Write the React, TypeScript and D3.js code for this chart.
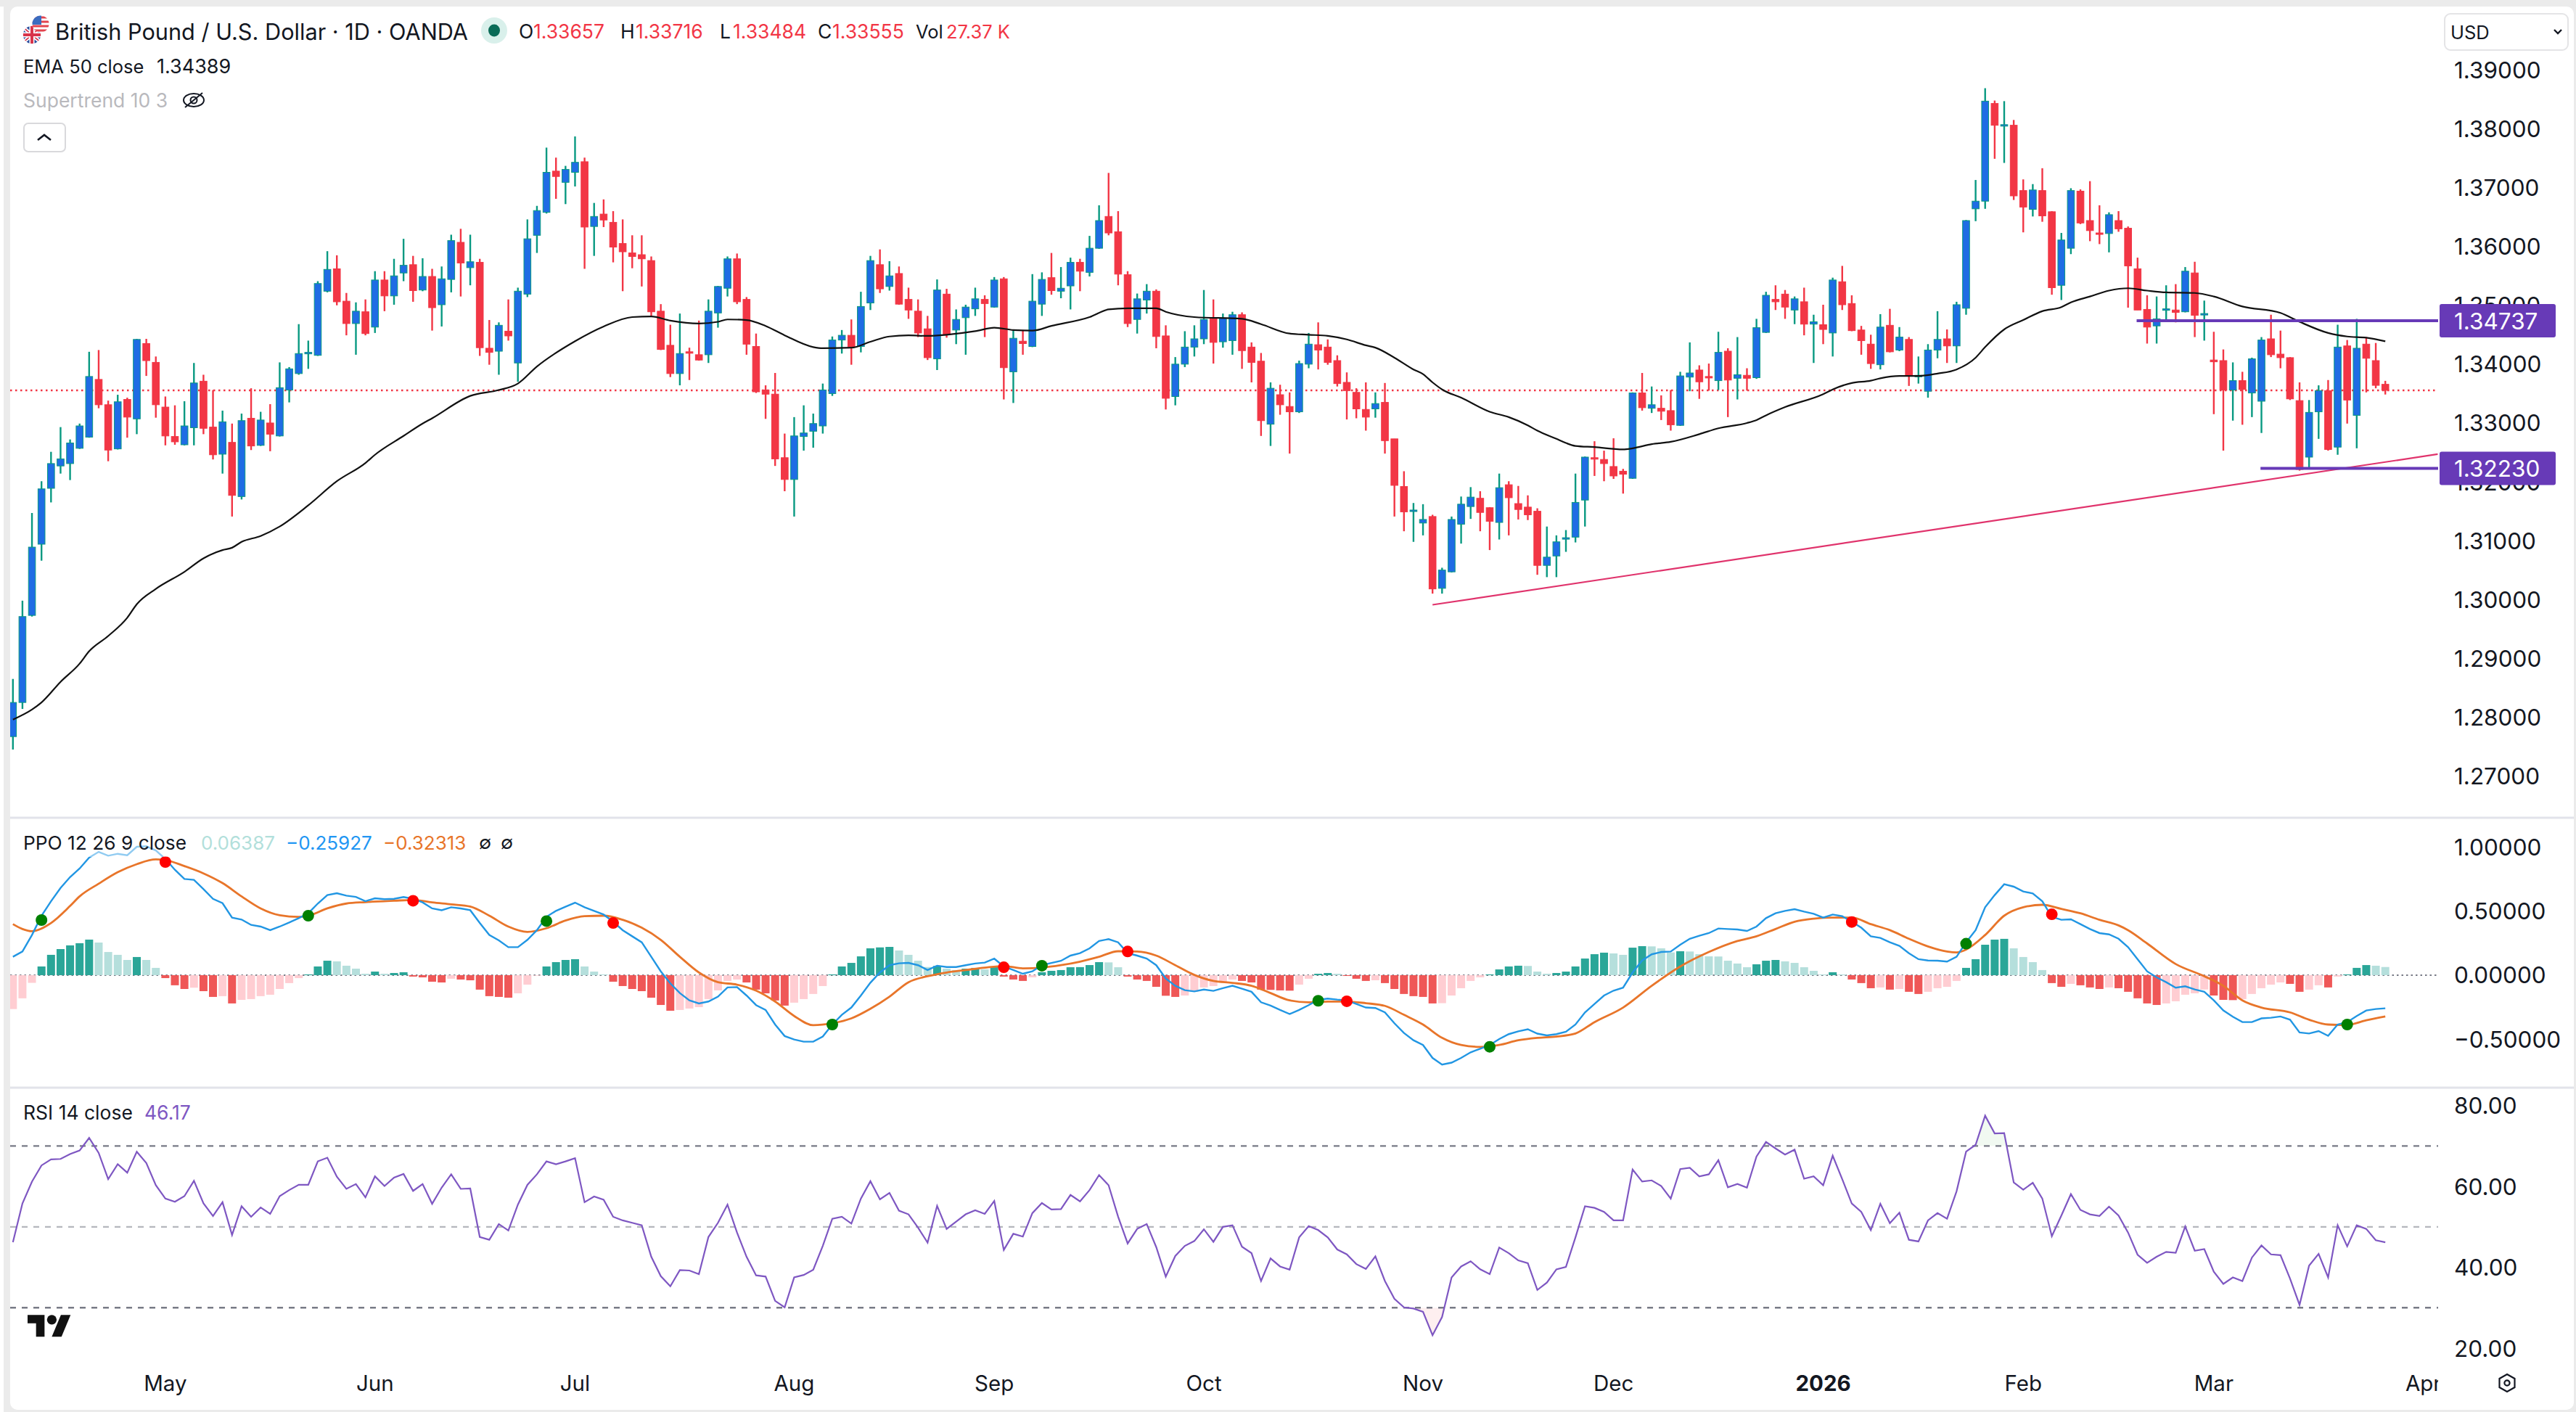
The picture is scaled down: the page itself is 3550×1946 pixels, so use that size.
import React from "react";
import * as d3 from "d3";

// ---------- DATA ----------
const opens = [
1.2767,1.2825,1.2973,1.3094,1.3189,1.3227,1.3231,1.3257,1.3276,1.3374,
1.3331,1.3256,1.3340,1.3307,1.3435,1.3403,1.3327,1.3277,1.3263,1.3292,
1.3371,1.3293,1.3247,1.3267,1.3175,1.3308,1.3262,1.3300,1.3278,1.3356,
1.3384,1.3418,1.3415,1.3524,1.3562,1.3507,1.3469,1.3489,1.3463,1.3543,
1.3516,1.3555,1.3569,1.3526,1.3549,1.3501,1.3544,1.3607,1.3564,1.3573,
1.3427,1.3422,1.3456,1.3402,1.3519,1.3619,1.3658,1.3728,1.3709,1.3726,
1.3744,1.3634,1.3655,1.3641,1.3605,1.3589,1.3586,1.3576,1.3490,1.3432,
1.3384,1.3421,1.3416,1.3416,1.3487,1.3529,1.3579,1.3510,1.3430,1.3356,
1.3349,1.3241,1.3204,1.3277,1.3286,1.3295,1.3350,1.3441,1.3449,1.3430,
1.3504,1.3569,1.3532,1.3554,1.3510,1.3490,1.3460,1.3409,1.3519,1.3458,
1.3479,1.3494,1.3510,1.3497,1.3545,1.3387,1.3439,1.3430,1.3502,1.3547,
1.3524,1.3533,1.3573,1.3556,1.3597,1.3651,1.3625,1.3552,1.3476,1.3509,
1.3524,1.3448,1.3345,1.3400,1.3429,1.3443,1.3477,1.3438,1.3440,1.3484,
1.3429,1.3405,1.3298,1.3348,1.3328,1.3319,1.3400,1.3433,1.3429,1.3406,
1.3369,1.3352,1.3323,1.3324,1.3335,1.3273,1.3192,1.3150,1.3130,1.3141,
1.3019,1.3047,1.3128,1.3158,1.3172,1.3156,1.3131,1.3195,1.3163,1.3157,
1.3150,1.3058,1.3074,1.3103,1.3106,1.3169,1.3241,1.3238,1.3226,1.3218,
1.3206,1.3351,1.3325,1.3325,1.3321,1.3296,1.3378,1.3390,1.3379,1.3372,
1.3422,1.3376,1.3381,1.3377,1.3454,1.3510,1.3519,1.3492,1.3506,1.3468,
1.3467,1.3453,1.3540,1.3503,1.3458,1.3434,1.3399,1.3466,1.3424,1.3442,
1.3379,1.3354,1.3424,1.3443,1.3431,1.3495,1.3664,1.3677,1.3843,1.3805,
1.3806,1.3695,1.3663,1.3695,1.3659,1.3534,1.3597,1.3694,1.3644,1.3623,
1.3622,1.3644,1.3631,1.3562,1.3493,1.3465,1.3492,1.3492,1.3489,1.3555,
1.3484,1.3407,1.3406,1.3356,1.3372,1.3351,1.3337,1.3443,1.3417,1.3411,
1.3338,1.3242,1.3319,1.3355,1.3259,1.3431,1.3313,1.3434,1.3406,1.33657];
const closes = [
1.2825,1.2971,1.3089,1.3188,1.3231,1.3239,1.3266,1.3295,1.3379,1.3331,
1.3254,1.3336,1.3310,1.3442,1.3406,1.3331,1.3278,1.3268,1.3295,1.3368,
1.3291,1.3246,1.3302,1.3177,1.3304,1.3261,1.3305,1.3281,1.3360,1.3392,
1.3418,1.3420,1.3537,1.3561,1.3506,1.3469,1.3490,1.3452,1.3543,1.3516,
1.3550,1.3568,1.3525,1.3549,1.3496,1.3545,1.3610,1.3572,1.3574,1.3428,
1.3420,1.3466,1.3448,1.3524,1.3613,1.3661,1.3726,1.3719,1.3731,1.3743,
1.3633,1.3651,1.3645,1.3599,1.3591,1.3583,1.3579,1.3489,1.3425,1.3384,
1.3418,1.3419,1.3407,1.3490,1.3532,1.3579,1.3506,1.3434,1.3353,1.3349,
1.3239,1.3204,1.3278,1.3283,1.3299,1.3356,1.3441,1.3449,1.3430,1.3498,
1.3576,1.3528,1.3550,1.3502,1.3492,1.3453,1.3411,1.3526,1.3450,1.3476,
1.3497,1.3511,1.3503,1.3543,1.3394,1.3444,1.3435,1.3507,1.3544,1.3525,
1.3529,1.3573,1.3558,1.3597,1.3644,1.3623,1.3553,1.3469,1.3511,1.3524,
1.3447,1.3342,1.3400,1.3429,1.3443,1.3476,1.3437,1.3478,1.3484,1.3423,
1.3403,1.3304,1.3359,1.3331,1.3319,1.3401,1.3434,1.3424,1.3403,1.3367,
1.3355,1.3324,1.3310,1.3333,1.3270,1.3194,1.3149,1.3152,1.3136,1.3018,
1.3050,1.3136,1.3162,1.3174,1.3148,1.3133,1.3190,1.3173,1.3153,1.3144,
1.3058,1.3072,1.3098,1.3105,1.3165,1.3242,1.3239,1.3231,1.3210,1.3213,
1.3351,1.3326,1.3331,1.3320,1.3297,1.3380,1.3385,1.3370,1.3377,1.3420,
1.3373,1.3382,1.3376,1.3462,1.3517,1.3506,1.3497,1.3511,1.3468,1.3472,
1.3459,1.3543,1.3501,1.3457,1.3440,1.3401,1.3463,1.3421,1.3446,1.3381,
1.3381,1.3424,1.3442,1.3431,1.3501,1.3644,1.3677,1.3847,1.3806,1.3807,
1.3686,1.3667,1.3696,1.3652,1.3530,1.3611,1.3695,1.3640,1.3627,1.3622,
1.3654,1.3630,1.3567,1.3492,1.3463,1.3477,1.3494,1.3488,1.3558,1.3483,
1.3486,1.3404,1.3356,1.3372,1.3357,1.3409,1.3441,1.3416,1.3411,1.3341,
1.3221,1.3318,1.3355,1.3255,1.3429,1.3339,1.3427,1.3410,1.3364,1.33555];
const highs = [
1.2865,1.2998,1.3147,1.3201,1.3251,1.3293,1.3272,1.3299,1.3421,1.3424,
1.3338,1.3348,1.3343,1.3443,1.3443,1.3413,1.3345,1.3330,1.3337,1.3402,
1.3382,1.3356,1.3321,1.3299,1.3316,1.3359,1.3319,1.3332,1.3403,1.3395,
1.3468,1.3440,1.3541,1.3592,1.3585,1.3521,1.3505,1.3510,1.3558,1.3558,
1.3579,1.3613,1.3584,1.3580,1.3562,1.3566,1.3620,1.3630,1.3620,1.3579,
1.3475,1.3471,1.3510,1.3530,1.3646,1.3669,1.3768,1.3751,1.3737,1.3787,
1.3751,1.3674,1.3680,1.3660,1.3646,1.3619,1.3619,1.3583,1.3502,1.3467,
1.3486,1.3428,1.3474,1.3510,1.3533,1.3583,1.3588,1.3514,1.3452,1.3364,
1.3385,1.3282,1.3310,1.3330,1.3316,1.3367,1.3447,1.3458,1.3476,1.3523,
1.3584,1.3595,1.3575,1.3566,1.3530,1.3510,1.3482,1.3544,1.3528,1.3493,
1.3501,1.3530,1.3517,1.3548,1.3548,1.3457,1.3458,1.3553,1.3556,1.3589,
1.3565,1.3581,1.3579,1.3618,1.3670,1.3725,1.3660,1.3558,1.3520,1.3536,
1.3527,1.3466,1.3412,1.3456,1.3466,1.3526,1.3510,1.3486,1.3489,1.3488,
1.3437,1.3419,1.3369,1.3365,1.3352,1.3406,1.3453,1.3471,1.3442,1.3415,
1.3386,1.3359,1.3369,1.3352,1.3368,1.3273,1.3218,1.3164,1.3162,1.3144,
1.3054,1.3141,1.3175,1.3191,1.3184,1.3157,1.3214,1.3201,1.3193,1.3177,
1.3155,1.3124,1.3109,1.3118,1.3214,1.3243,1.3269,1.3253,1.3274,1.3222,
1.3352,1.3385,1.3362,1.3347,1.3356,1.3387,1.3437,1.3398,1.3401,1.3455,
1.3427,1.3446,1.3393,1.3477,1.3523,1.3534,1.3526,1.3515,1.3530,1.3484,
1.3501,1.3547,1.3567,1.3517,1.3465,1.3450,1.3485,1.3494,1.3463,1.3446,
1.3413,1.3434,1.3490,1.3459,1.3506,1.3645,1.3713,1.3869,1.3848,1.3847,
1.3815,1.3714,1.3706,1.3733,1.3660,1.3623,1.3699,1.3697,1.3711,1.3670,
1.3658,1.3660,1.3634,1.3581,1.3517,1.3515,1.3534,1.3536,1.3565,1.3574,
1.3508,1.3455,1.3425,1.3403,1.3387,1.3411,1.3446,1.3484,1.3457,1.3412,
1.3369,1.3339,1.3364,1.3373,1.3467,1.3441,1.3477,1.3446,1.3436,1.33716];
const lows = [
1.2745,1.2814,1.2971,1.3066,1.3165,1.3214,1.3203,1.3256,1.3275,1.3325,
1.3235,1.3255,1.3275,1.3281,1.3380,1.3309,1.3262,1.3263,1.3262,1.3262,
1.3281,1.3238,1.3214,1.3141,1.3170,1.3254,1.3261,1.3252,1.3277,1.3335,
1.3382,1.3392,1.3414,1.3522,1.3500,1.3449,1.3416,1.3449,1.3453,1.3490,
1.3501,1.3541,1.3506,1.3524,1.3457,1.3464,1.3522,1.3515,1.3534,1.3414,
1.3399,1.3382,1.3440,1.3370,1.3514,1.3589,1.3656,1.3681,1.3672,1.3702,
1.3562,1.3584,1.3633,1.3573,1.3524,1.3563,1.3532,1.3482,1.3424,1.3378,
1.3364,1.3373,1.3406,1.3402,1.3462,1.3515,1.3502,1.3416,1.3351,1.3307,
1.3227,1.3184,1.3141,1.3253,1.3258,1.3282,1.3346,1.3418,1.3399,1.3420,
1.3492,1.3521,1.3525,1.3501,1.3477,1.3446,1.3407,1.3390,1.3445,1.3434,
1.3416,1.3482,1.3446,1.3496,1.3340,1.3334,1.3416,1.3429,1.3482,1.3518,
1.3512,1.3493,1.3524,1.3549,1.3596,1.3619,1.3534,1.3463,1.3452,1.3486,
1.3427,1.3323,1.3330,1.3395,1.3413,1.3434,1.3401,1.3428,1.3416,1.3392,
1.3369,1.3278,1.3261,1.3314,1.3248,1.3317,1.3393,1.3391,1.3399,1.3362,
1.3306,1.3308,1.3287,1.3309,1.3248,1.3141,1.3116,1.3098,1.3109,1.3010,
1.3010,1.3046,1.3095,1.3137,1.3116,1.3084,1.3102,1.3109,1.3136,1.3135,
1.3042,1.3038,1.3038,1.3081,1.3097,1.3124,1.3210,1.3201,1.3205,1.3180,
1.3205,1.3321,1.3317,1.3305,1.3287,1.3295,1.3354,1.3341,1.3355,1.3356,
1.3310,1.3340,1.3355,1.3375,1.3453,1.3492,1.3477,1.3468,1.3449,1.3402,
1.3434,1.3413,1.3492,1.3456,1.3416,1.3392,1.3391,1.3420,1.3422,1.3363,
1.3367,1.3343,1.3410,1.3402,1.3402,1.3484,1.3643,1.3664,1.3749,1.3742,
1.3679,1.3624,1.3651,1.3642,1.3518,1.3509,1.3587,1.3638,1.3609,1.3604,
1.3590,1.3625,1.3496,1.3492,1.3435,1.3435,1.3476,1.3471,1.3488,1.3446,
1.3440,1.3315,1.3253,1.3304,1.3297,1.3310,1.3283,1.3412,1.3393,1.3339,
1.3219,1.3224,1.3273,1.3253,1.3246,1.3299,1.3257,1.3352,1.3359,1.33484];

const emaBars = [0,2,3,5,7,8,10,12,13,15,18,20,22,23,24,26,28,31,34,37,38,41,43,44,48,51,53,55,59,62,65,67,69,72,74,75,77,79,81,84,85,88,90,92,94,96,98,101,103,105,107,109,113,115,117,120,121,124,129,131,134,136,138,140,142,143,145,147,148,149,150,152,155,157,159,160,162,163,164,166,169,170,172,174,177,179,182,183,184,186,190,191,193,195,196,198,200,202,204,206,207,209,211,213,215,216,218,220,222,224,226,229,231,234,238,240,243,245,247,249];
const emaValues = [1.2796,1.2813,1.2825,1.2860,1.2891,1.2912,1.2938,1.2969,1.2992,1.3018,1.3047,1.3070,1.3084,1.3088,1.3098,1.3108,1.3124,1.3160,1.3201,1.3232,1.3246,1.3278,1.3299,1.3308,1.3346,1.3356,1.3367,1.3396,1.3439,1.3464,1.3480,1.3481,1.3474,1.3469,1.3472,1.3476,1.3475,1.3465,1.3449,1.3429,1.3427,1.3428,1.3438,1.3447,1.3449,1.3448,1.3450,1.3456,1.3462,1.3458,1.3457,1.3465,1.3480,1.3493,1.3495,1.3495,1.3489,1.3480,1.3477,1.3468,1.3452,1.3450,1.3448,1.3442,1.3432,1.3428,1.3411,1.3391,1.3383,1.3369,1.3357,1.3343,1.3319,1.3310,1.3296,1.3287,1.3273,1.3266,1.3261,1.3259,1.3255,1.3257,1.3264,1.3268,1.3281,1.3291,1.3300,1.3305,1.3313,1.3327,1.3349,1.3357,1.3368,1.3372,1.3376,1.3380,1.3380,1.3384,1.3391,1.3411,1.3429,1.3459,1.3475,1.3490,1.3497,1.3505,1.3515,1.3525,1.3529,1.3525,1.3522,1.3521,1.3515,1.3498,1.3487,1.3472,1.3453,1.3447,1.3445,1.34389];

const ppoValues = [
.144,.185,.314,.465,.578,.682,.767,.834,.919,.964,
.934,.949,.938,1.004,1.008,.975,.909,.824,.752,.745,
.673,.597,.563,.450,.435,.393,.380,.352,.380,.412,
.446,.484,.560,.626,.641,.622,.612,.578,.601,.594,
.597,.611,.597,.569,.522,.508,.531,.522,.508,.408,
.314,.272,.219,.219,.276,.352,.456,.503,.535,.567,
.531,.503,.474,.418,.352,.304,.257,.144,.030,-.064,
-.140,-.197,-.221,-.206,-.168,-.096,-.093,-.159,-.234,-.272,
-.386,-.476,-.503,-.520,-.520,-.480,-.386,-.310,-.253,-.159,
-.059,.021,.078,.093,.096,.078,.040,.074,.064,.064,
.078,.091,.098,.129,.068,.040,.011,.030,.078,.096,
.112,.153,.172,.210,.267,.282,.257,.172,.153,.130,
.078,-.026,-.083,-.117,-.127,-.112,-.123,-.102,-.083,-.106,
-.130,-.212,-.238,-.272,-.304,-.272,-.234,-.193,-.183,-.191,
-.197,-.225,-.253,-.257,-.291,-.376,-.452,-.509,-.546,-.647,
-.699,-.684,-.647,-.603,-.575,-.546,-.499,-.461,-.439,-.423,
-.457,-.471,-.461,-.442,-.386,-.291,-.225,-.159,-.121,-.098,
.021,.115,.163,.181,.185,.238,.285,.308,.329,.365,
.361,.357,.346,.380,.446,.484,.503,.516,.497,.480,
.450,.474,.461,.418,.371,.304,.291,.257,.229,.172,
.125,.115,.113,.106,.144,.257,.352,.531,.626,.711,
.692,.654,.639,.578,.456,.433,.437,.399,.361,.329,
.319,.285,.219,.125,.030,-.017,-.055,-.098,-.087,-.112,
-.130,-.197,-.276,-.325,-.367,-.367,-.338,-.333,-.323,-.348,
-.448,-.456,-.437,-.474,-.386,-.367,-.319,-.276,-.265,-.25927];

const signalBars = [0,1,2,4,6,7,9,11,13,15,16,18,20,22,24,26,28,30,31,33,35,37,40,42,44,46,48,50,52,54,56,58,60,62,64,66,68,70,72,74,76,78,80,82,84,86,88,90,92,94,96,98,100,102,104,106,108,110,112,114,116,118,120,122,124,126,128,130,132,134,136,138,140,142,144,146,148,150,152,154,156,158,160,162,164,166,169,172,175,178,181,183,185,187,189,191,193,195,197,199,201,203,204,205,207,209,211,213,215,217,219,221,222,224,227,230,232,234,236,239,241,243,245,247,249];
const signalValues = [.399,.361,.344,.408,.541,.616,.715,.805,.868,.905,.900,.853,.796,.720,.616,.522,.469,.456,.465,.522,.560,.571,.582,.588,.569,.554,.537,.465,.380,.338,.367,.427,.461,.465,.433,.371,.276,.144,.021,-.055,-.074,-.121,-.206,-.319,-.391,-.376,-.338,-.263,-.168,-.055,-.008,.021,.040,.059,.072,.053,.059,.078,.106,.144,.187,.185,.153,.078,.002,-.045,-.060,-.083,-.140,-.197,-.212,-.206,-.206,-.219,-.240,-.310,-.386,-.490,-.546,-.561,-.546,-.509,-.490,-.480,-.456,-.367,-.253,-.083,.068,.181,.267,.304,.361,.418,.442,.450,.450,.399,.352,.285,.225,.185,.178,.200,.314,.465,.531,.550,.518,.484,.433,.389,.352,.248,.087,-.008,-.083,-.197,-.253,-.291,-.348,-.386,-.389,-.353,-.32313];

const histValues = [
-.265,-.181,-.060,.068,.159,.204,.233,.250,.278,.255,
.181,.159,.119,.142,.119,.057,-.023,-.079,-.108,-.098,
-.125,-.170,-.164,-.221,-.193,-.187,-.164,-.153,-.108,-.062,
-.023,.006,.068,.113,.108,.074,.051,.011,.028,.011,
.017,.023,-.011,-.017,-.051,-.057,-.028,-.034,-.040,-.113,
-.164,-.170,-.176,-.142,-.074,-.004,.068,.102,.119,.125,
.068,.028,.006,-.051,-.085,-.108,-.125,-.176,-.233,-.278,
-.272,-.261,-.250,-.187,-.119,-.045,-.034,-.057,-.113,-.142,
-.198,-.238,-.215,-.187,-.147,-.085,.006,.068,.096,.147,
.210,.217,.221,.193,.159,.113,.064,.072,.051,.040,
.051,.057,.045,.068,-.011,-.034,-.045,-.017,.023,.034,
.040,.062,.063,.079,.102,.100,.062,-.011,-.034,-.045,
-.091,-.161,-.170,-.159,-.130,-.096,-.085,-.057,-.034,-.045,
-.057,-.113,-.115,-.119,-.121,-.074,-.028,.011,.017,.011,
-.006,-.028,-.045,-.040,-.062,-.108,-.147,-.164,-.170,-.221,
-.219,-.159,-.102,-.045,-.017,.006,.045,.068,.074,.072,
.028,.011,.017,.028,.068,.130,.164,.176,.170,.159,
.215,.227,.225,.210,.178,.187,.185,.164,.147,.146,
.113,.091,.062,.085,.113,.119,.108,.096,.062,.034,
.006,.023,.006,-.034,-.062,-.102,-.096,-.113,-.108,-.130,
-.147,-.130,-.102,-.091,-.045,.057,.125,.238,.278,.284,
.210,.142,.102,.040,-.062,-.091,-.068,-.079,-.096,-.108,
-.096,-.102,-.130,-.181,-.221,-.233,-.221,-.204,-.153,-.142,
-.112,-.159,-.193,-.195,-.187,-.147,-.102,-.074,-.057,-.068,
-.130,-.113,-.079,-.096,-.011,.006,.057,.079,.074,.06387];

const greenCrossBars = [3,31,56,86,108,137,155,205,245];
const greenCrossValues = [.431,.465,.423,-.386,.074,-.200,-.560,.246,-.386];
const redCrossBars = [16,42,63,104,117,140,193,214];
const redCrossValues = [.885,.582,.408,.062,.185,-.204,.416,.476];

const rsiValues = [
46.2,55.8,61.2,65.2,66.7,66.8,68.0,68.9,72.0,68.3,
61.8,65.5,63.4,68.6,65.8,60.3,57.0,56.2,57.6,61.4,
55.8,52.7,56.1,48.0,55.1,52.5,54.8,53.2,57.6,59.1,
60.4,60.4,66.2,67.1,62.4,59.4,60.6,57.3,62.5,60.1,
62.2,63.1,58.9,60.6,55.7,59.7,63.0,59.4,59.5,47.5,
46.8,50.7,49.1,55.5,60.4,63.0,66.2,65.5,66.2,67.0,
56.1,57.5,56.7,52.5,51.6,51.0,50.4,42.6,37.8,35.3,
39.3,39.2,38.3,47.5,51.0,55.5,48.6,42.6,38.0,37.7,
31.7,30.1,37.5,38.1,39.4,45.3,52.0,52.5,50.8,57.0,
61.3,56.8,58.4,54.0,53.1,49.8,46.1,55.2,49.5,51.3,
53.1,54.1,53.2,56.4,44.3,48.3,47.6,53.4,55.9,54.3,
54.4,57.9,56.3,59.1,62.8,60.3,52.5,45.9,49.5,50.7,
45.0,37.7,42.8,45.3,46.5,49.4,46.3,50.0,50.4,45.1,
43.5,36.6,42.2,40.2,39.4,47.4,
50.2,49.2,47.4,44.4,43.2,40.8,39.6,42.7,36.6,32.2,
30.1,29.8,29.0,23.2,27.7,37.5,40.2,41.5,39.5,38.3,
44.9,43.5,41.7,41.0,34.4,36.2,39.5,40.1,47.4,55.1,
54.7,53.7,51.6,51.6,64.2,61.2,61.5,60.1,57.0,64.3,
64.6,62.5,63.0,66.5,59.8,60.6,59.7,67.4,71.0,69.4,
67.9,69.1,61.9,62.5,60.3,67.6,61.8,55.8,53.7,49.2,
55.7,50.9,53.5,46.8,46.4,51.6,53.4,52.0,58.8,68.6,
70.3,77.5,73.1,73.2,61.0,59.2,60.9,57.0,47.7,52.8,
58.1,54.2,53.1,52.7,55.0,52.8,48.6,43.1,41.1,42.6,
43.8,43.6,50.1,44.1,44.5,38.9,35.9,37.5,36.6,42.4,
45.4,43.2,43.0,37.2,30.7,40.4,43.3,37.5,50.4,45.2,
50.4,49.5,46.7,46.17];

const priceTicks = [1.39,1.38,1.37,1.36,1.35,1.34,1.33,1.32,1.31,1.30,1.29,1.28,1.27];
const ppoTicks = [1,0.5,0,-0.5];
const rsiTicks = [80,60,40,20];
const rsiLevels = [70,50,30];
const monthLabels = ["May","Jun","Jul","Aug","Sep","Oct","Nov","Dec","2026","Feb","Mar","Apr"];
const monthBars = [16,38,59,82,103,125,148,168,190,211,231,253];
const levelPrices = [1.34737,1.3223];
const levelStartBars = [222.9,235.9];
const trendBars = [149,254.5];
const trendPrices = [1.2991,1.3247];

// ---------- LAYOUT ----------
const W = 3550, H = 1946;
const CHART_L = 14, CHART_R = 3360;
const FONT = "Inter, 'Noto Sans', sans-serif";
const INK = "#131722";
const UP_FILL = "#1f6ce4", UP_LINE = "#089981", DOWN = "#f23645";

const x = d3.scaleLinear().domain([0, 249]).range([17.8, 3287.2]);
const yP = d3.scaleLinear().domain([1.27, 1.38]).range([1069.5, 177.5]);
const yM = d3.scaleLinear().domain([-0.5, 1]).range([1432.1, 1167.7]);
const yR = d3.scaleLinear().domain([20, 80]).range([1858, 1523.7]);

const bars = d3.range(closes.length);
const emaPath = d3.line<number>().x((i) => x(emaBars[i])).y((i) => yP(emaValues[i])).curve(d3.curveMonotoneX)(d3.range(emaBars.length))!;
const ppoPath = d3.line<number>().x((d, i) => x(i)).y((d) => yM(d))(ppoValues)!;
const signalPath = d3.line<number>().x((i) => x(signalBars[i])).y((i) => yM(signalValues[i])).curve(d3.curveMonotoneX)(d3.range(signalBars.length))!;
const rsiPath = d3.line<number>().x((d, i) => x(i)).y((d) => yR(d))(rsiValues)!;
const rsiOver = d3.area<number>().x((d, i) => x(i)).y0(yR(70)).y1((d) => yR(d))(rsiValues)!;
const rsiUnder = d3.area<number>().x((d, i) => x(i)).y0(yR(30)).y1((d) => yR(d))(rsiValues)!;

const histColor = (i: number) => {
  const v = histValues[i];
  const rising = i > 0 && histValues[i - 1] < v;
  if (v >= 0) return rising ? "#2aa698" : "#b5dfdc";
  return rising || i === 0 ? "#ffcdd2" : "#ef5757";
};
const fmtMinus = (v: number) => (v < 0 ? "\u2212" : "") + Math.abs(v).toFixed(5);

function Txt(p: { x: number; y: number; fill?: string; size?: number; anchor?: string; weight?: number; children: React.ReactNode }) {
  return (
    <text x={p.x} y={p.y} fill={p.fill ?? INK} fontSize={p.size ?? 25} textAnchor={p.anchor as any} fontWeight={p.weight} dominantBaseline="central">
      {p.children}
    </text>
  );
}

export default function App() {
  return (
    <svg width={W} height={H} viewBox={`0 0 ${W} ${H}`} style={{ position: "fixed", left: 0, top: 0, display: "block" }} fontFamily={FONT}>
      <defs>
        <clipPath id="plot"><rect x={CHART_L} y={9} width={CHART_R - CHART_L} height={1934} /></clipPath>
        <clipPath id="over"><rect x={CHART_L} y={1500} width={CHART_R - CHART_L} height={yR(70) - 1500} /></clipPath>
        <clipPath id="under"><rect x={CHART_L} y={yR(30)} width={CHART_R - CHART_L} height={100} /></clipPath>
        <clipPath id="uk"><circle cx={44} cy={48} r={12.5} /></clipPath>
        <clipPath id="us"><circle cx={56} cy={33} r={11.5} /></clipPath>
      </defs>

      {/* frame */}
      <rect width={W} height={H} fill="#ebebeb" />
      <rect x={0} y={9} width={5} height={H - 9} fill="#ffffff" />
      <rect x={14} y={9} width={3533} height={1934} rx={10} fill="#ffffff" />

      {/* pane separators */}
      <rect x={14} y={1125.5} width={3533} height={3} fill="#e2e3ea" />
      <rect x={14} y={1497.5} width={3533} height={3} fill="#e2e3ea" />

      <g clipPath="url(#plot)">
        {/* last price */}
        <line x1={CHART_L} x2={CHART_R} y1={yP(closes[249])} y2={yP(closes[249])} stroke={DOWN} strokeWidth={2.4} strokeDasharray="2.5 4.5" />

        {/* candles */}
        {bars.map((i) => {
          const up = closes[i] >= opens[i];
          const top = yP(Math.max(opens[i], closes[i]));
          const bot = yP(Math.min(opens[i], closes[i]));
          return (
            <g key={i}>
              <line x1={x(i)} x2={x(i)} y1={yP(highs[i])} y2={yP(lows[i])} stroke={up ? UP_LINE : DOWN} strokeWidth={2.4} />
              <rect x={x(i) - 4.8} y={top} width={9.6} height={Math.max(bot - top, 2)} fill={up ? UP_FILL : DOWN} stroke={up ? UP_LINE : DOWN} strokeWidth={1} />
            </g>
          );
        })}

        {/* EMA */}
        <path d={emaPath} fill="none" stroke="#111111" strokeWidth={2.2} />

        {/* trend + levels */}
        <line x1={x(trendBars[0])} x2={x(trendBars[1])} y1={yP(trendPrices[0])} y2={yP(trendPrices[1])} stroke="#e0336c" strokeWidth={2.2} />
        {levelPrices.map((p, i) => (
          <line key={p} x1={x(levelStartBars[i])} x2={CHART_R} y1={yP(p)} y2={yP(p)} stroke="#673ab7" strokeWidth={4} />
        ))}

        {/* PPO */}
        <line x1={CHART_L} x2={CHART_R} y1={yM(0)} y2={yM(0)} stroke="#787b86" strokeWidth={2} strokeDasharray="2.5 4" />
        {histValues.map((v, i) => (
          <rect key={i} x={x(i) - 5.5} width={11} y={Math.min(yM(v), yM(0))} height={Math.abs(yM(v) - yM(0))} fill={histColor(i)} />
        ))}
        <path d={signalPath} fill="none" stroke="#e8752a" strokeWidth={2.8} />
        <path d={ppoPath} fill="none" stroke="#2196e3" strokeWidth={2.4} />
        {greenCrossBars.map((b, i) => <circle key={b} cx={x(b)} cy={yM(greenCrossValues[i])} r={8} fill="#008000" />)}
        {redCrossBars.map((b, i) => <circle key={b} cx={x(b)} cy={yM(redCrossValues[i])} r={8} fill="#ff0000" />)}

        {/* RSI */}
        <path d={rsiOver} fill="#4caf50" fillOpacity={0.08} clipPath="url(#over)" />
        <path d={rsiUnder} fill="#f23645" fillOpacity={0.08} clipPath="url(#under)" />
        {rsiLevels.map((l) => (
          <line key={l} x1={CHART_L} x2={CHART_R} y1={yR(l)} y2={yR(l)} stroke="#787b86" strokeOpacity={l === 50 ? 0.55 : 1} strokeWidth={2.4} strokeDasharray="8 8" />
        ))}
        <path d={rsiPath} fill="none" stroke="#7e57c2" strokeWidth={2.2} />

        {/* month labels */}
        {monthLabels.map((m, i) => (
          <Txt key={m} x={x(monthBars[i])} y={1906} size={29.5} anchor="middle" weight={m === "2026" ? 700 : 400}>{m}</Txt>
        ))}
      </g>

      {/* price axis */}
      {priceTicks.map((t) => <Txt key={t} x={3382} y={yP(t)} size={31.5}>{t.toFixed(5)}</Txt>)}
      {ppoTicks.map((t) => <Txt key={t} x={3382} y={yM(t)} size={31.5}>{fmtMinus(t)}</Txt>)}
      {rsiTicks.map((t) => <Txt key={t} x={3382} y={yR(t)} size={31.5}>{t.toFixed(2)}</Txt>)}

      {/* level labels */}
      {levelPrices.map((p) => (
        <g key={p}>
          <rect x={3362} y={yP(p) - 23} width={160} height={46} rx={3} fill="#673ab7" />
          <Txt x={3382} y={yP(p)} size={31.5} fill="#ffffff">{p.toFixed(5)}</Txt>
        </g>
      ))}

      {/* USD selector */}
      <rect x={3369} y={19} width={170} height={50} rx={8} fill="#ffffff" stroke="#e4e4e6" strokeWidth={2} />
      <Txt x={3377} y={44} size={25.5}>USD</Txt>
      <path d="M3520 41 l5 5 l5 -5" fill="none" stroke={INK} strokeWidth={2.4} />

      {/* header */}
      <g clipPath="url(#uk)">
        <rect x={30} y={34} width={28} height={28} fill="#2b4c9b" />
        <path d="M30 36 L58 60 M58 36 L30 60" stroke="#ffffff" strokeWidth={5} />
        <path d="M30 36 L58 60 M58 36 L30 60" stroke="#d8344a" strokeWidth={1.8} />
        <path d="M44 34 V62 M30 48 H58" stroke="#ffffff" strokeWidth={7} />
        <path d="M44 34 V62 M30 48 H58" stroke="#d8344a" strokeWidth={4} />
      </g>
      <circle cx={44} cy={48} r={13} fill="none" stroke="#ffffff" strokeWidth={1.5} />
      <g clipPath="url(#us)">
        <rect x={44} y={21} width={24} height={24} fill="#ffffff" />
        <path d="M44 24 H68 M44 30 H68 M44 36 H68 M44 42 H68" stroke="#e2444e" strokeWidth={3} />
        <rect x={44} y={21} width={13} height={13} fill="#3b6cc0" />
      </g>

      <Txt x={76} y={43} size={30.7}>British Pound / U.S. Dollar · 1D · OANDA</Txt>
      <ellipse cx={681} cy={42} rx={18} ry={18} fill="#d9f0eb" />
      <ellipse cx={681} cy={42} rx={8} ry={8.5} fill="#0a6b57" />
      <Txt x={715} y={43} size={26.5}>O</Txt>
      <Txt x={735} y={43} size={26.5} fill={DOWN}>{opens[249].toFixed(5)}</Txt>
      <Txt x={855} y={43} size={26.5}>H</Txt>
      <Txt x={876} y={43} size={26.5} fill={DOWN}>{highs[249].toFixed(5)}</Txt>
      <Txt x={992} y={43} size={26.5}>L</Txt>
      <Txt x={1010} y={43} size={26.5} fill={DOWN}>{lows[249].toFixed(5)}</Txt>
      <Txt x={1127} y={43} size={26.5}>C</Txt>
      <Txt x={1147} y={43} size={26.5} fill={DOWN}>{closes[249].toFixed(5)}</Txt>
      <Txt x={1262} y={43} size={25.5}>Vol</Txt>
      <Txt x={1304} y={43} size={25.5} fill={DOWN}>27.37 K</Txt>

      <Txt x={32} y={91} size={25.5}>EMA 50 close</Txt>
      <Txt x={216} y={91} size={27}>{emaValues[emaValues.length - 1].toFixed(5)}</Txt>
      <Txt x={32} y={138} size={26.5} fill="#b9b9bd">Supertrend 10 3</Txt>
      <g fill="none" stroke={INK} strokeWidth={2}>
        <ellipse cx={267} cy={138} rx={14} ry={9} />
        <circle cx={267} cy={138} r={4.5} />
        <path d="M255 148 L279 128" />
      </g>
      <rect x={33} y={170} width={57} height={39} rx={6} fill="#ffffff" stroke="#d9d9dc" strokeWidth={2} />
      <path d="M52 193 l9 -7 l9 7" fill="none" stroke={INK} strokeWidth={2.6} />

      {/* PPO legend */}
      <rect x={24} y={1143} width={695} height={38} fill="#ffffff" fillOpacity={0.5} />
      <Txt x={32} y={1161} size={26.3}>PPO 12 26 9 close</Txt>
      <Txt x={277} y={1161} size={26} fill="#b2dfdb">{histValues[249].toFixed(5)}</Txt>
      <Txt x={394} y={1161} size={26} fill="#2196f3">{fmtMinus(ppoValues[249])}</Txt>
      <Txt x={528} y={1161} size={26} fill="#e8752a">{fmtMinus(signalValues[signalValues.length - 1])}</Txt>
      <Txt x={660} y={1161} size={25}>∅</Txt>
      <Txt x={690} y={1161} size={25}>∅</Txt>

      {/* RSI legend */}
      <Txt x={32} y={1533} size={26.5}>RSI 14 close</Txt>
      <Txt x={199} y={1533} size={26.5} fill="#7e57c2">{rsiValues[249].toFixed(2)}</Txt>

      {/* logo */}
      <g transform="translate(38,1805.5) scale(1.67)" fill="#111111">
        <path d="M14 22H7V11H0V4h14v18zM28 22h-8l7.5-18h8L28 22z" />
        <circle cx={20} cy={8} r={4} />
      </g>

      {/* settings */}
      <path d="M3455 1894 l10.5 6 v12 l-10.5 6 l-10.5 -6 v-12 z" fill="none" stroke={INK} strokeWidth={2.2} />
      <circle cx={3455} cy={1906} r={3.6} fill="none" stroke={INK} strokeWidth={2.2} />
    </svg>
  );
}
